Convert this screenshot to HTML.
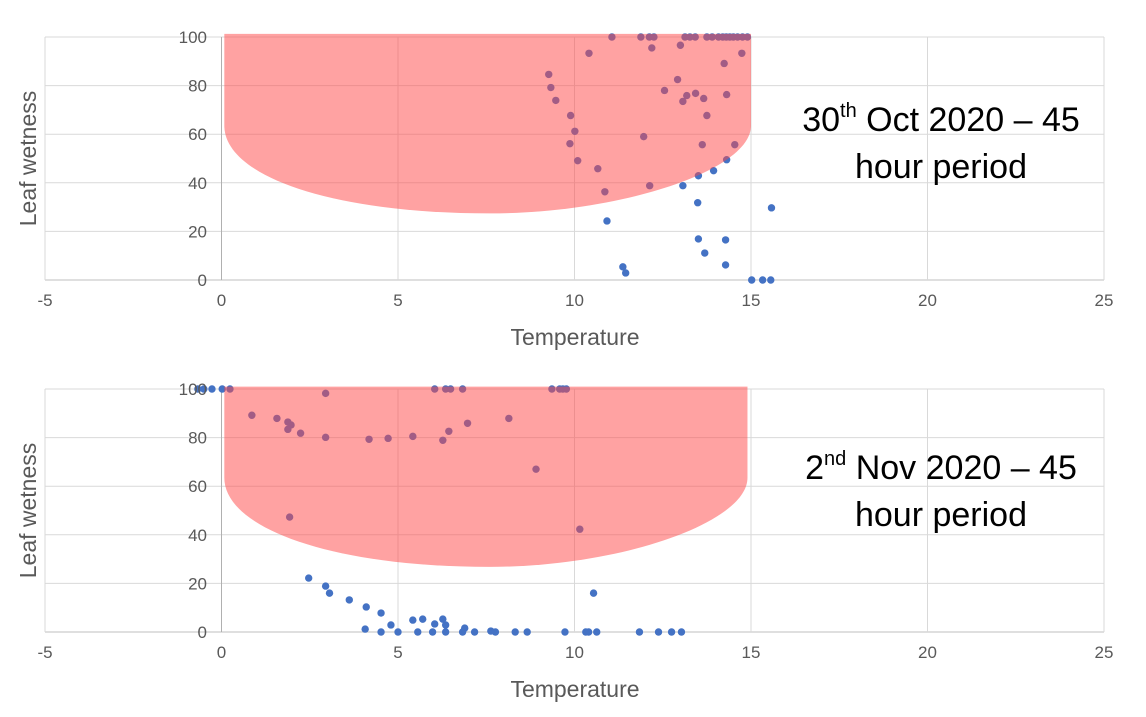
<!DOCTYPE html>
<html><head><meta charset="utf-8"><style>
body{margin:0;background:#fff;width:1146px;height:712px;overflow:hidden}
svg{font-family:"Liberation Sans",sans-serif}
</style></head><body>
<svg id="c" width="1146" height="712" xmlns="http://www.w3.org/2000/svg"></svg>
<script>
const xTicks=[-5,0,5,10,15,20,25];
const yTicks=[0,20,40,60,80,100];
const topTemp=[9.27,9.33,9.47,9.89,10.01,9.87,10.09,10.66,10.86,10.92,11.37,11.45,10.41,11.06,11.88,12.12,12.25,12.19,11.96,12.13,12.55,12.92,13.0,13.07,13.18,13.07,13.43,13.49,13.66,13.75,13.62,13.51,13.94,13.51,13.69,14.28,14.28,14.31,14.24,14.54,14.31,14.74,15.58,15.02,15.33,15.56,13.13,13.27,13.42,13.75,13.9,14.08,14.2,14.3,14.4,14.5,14.62,14.76,14.9];
const topWet=[84.6,79.2,73.9,67.7,61.2,56.1,49.1,45.8,36.3,24.3,5.4,2.9,93.3,100,100,100,100,95.5,59,38.8,78,82.5,96.6,73.5,75.9,38.8,76.8,31.8,74.7,67.7,55.7,42.9,45,16.9,11.1,16.5,6.2,76.3,89.1,55.7,49.5,93.3,29.7,0,0,0,100,100,100,100,100,100,100,100,100,100,100,100,100];
const botTemp=[-0.67,-0.5,-0.27,0.02,0.24,0.86,1.57,1.88,1.97,1.88,2.24,2.95,2.95,1.93,4.18,4.72,5.42,6.04,6.27,6.35,6.49,6.44,6.83,6.97,8.14,8.91,9.36,9.58,9.67,9.77,10.15,2.47,2.95,3.06,3.62,4.1,4.07,4.52,4.52,4.8,5.0,5.42,5.7,5.56,5.98,6.04,6.27,6.35,6.35,6.83,6.89,7.17,7.63,7.76,8.32,8.66,9.73,10.32,10.4,10.63,10.54,11.84,12.38,12.75,13.03];
const botWet=[100,100,100,100,100,89.2,87.9,86.4,85.2,83.4,81.8,98.2,80.1,47.3,79.3,79.7,80.5,100,78.9,100,100,82.6,100,85.9,87.9,67,100,100,100,100,42.3,22.2,18.9,16,13.2,10.3,1.2,7.8,0,2.9,0,4.9,5.3,0,0,3.3,5.3,2.9,0,0,1.6,0,0.4,0,0,0,0,0,0,0,16,0,0,0,0];
// zone: [tempLeft,tempRight,topVal,sideVal,bottomVal,bottomTemp]
const topZone=[0.08,15.0,101.3,63.5,27.4,7.6];
const botZone=[0.08,14.9,101,63.5,26.8,7.6];

const NS="http://www.w3.org/2000/svg";
const svg=document.getElementById('c');
function mk(t,a,p){const e=document.createElementNS(NS,t);for(const k in a)e.setAttribute(k,a[k]);(p||svg).appendChild(e);return e;}
const X=v=>45+(v+5)*(1104-45)/30;

function chart(name,yTop,yBot,temps,wets,zone,l1,sup,l2,labelY){
  const g=mk('g',{});
  
  
  const Y=v=>yBot-(v)*(yBot-yTop)/100;
  yTicks.forEach(t=>{
    const l=mk('line',{x1:45,x2:1104,y1:Y(t),y2:Y(t),stroke:t===0?'#bfbfbf':'#d9d9d9','stroke-width':1},g);
    
    
  });
  xTicks.forEach(t=>{
    const l=mk('line',{x1:X(t),x2:X(t),y1:Y(100),y2:Y(0),stroke:t===0?'#b0b0b0':'#d9d9d9','stroke-width':1},g);
    
    
    const tx=mk('text',{x:X(t),y:yBot+26,'text-anchor':'middle','font-size':17,fill:'#595959'},g);
    tx.textContent=t;
    
    
  });
  temps.forEach((t,i)=>{
    const c=mk('circle',{cx:X(t),cy:Y(wets[i]),r:3.7,fill:'#4472C4'},g);
    
    
  });
  const xl=X(zone[0]),xr=X(zone[1]),yt=Y(zone[2]),ys=Y(zone[3]),yb=Y(zone[4]),xm=X(zone[5]);
  const d=`M${xl},${yt} L${xr},${yt} L${xr},${ys} C${xr},${ys+45} ${xm+130},${yb} ${xm},${yb} C${xm-160},${yb} ${xl},${ys+50} ${xl},${ys} Z`;
  const p=mk('path',{d:d,fill:'#ff4646','fill-opacity':0.5},g);
  
  
  yTicks.forEach(t=>{
    const tx=mk('text',{x:207,y:Y(t)+6,'text-anchor':'end','font-size':17,fill:'#595959'},g);
    tx.textContent=t;
    
    
  });
  const at=mk('text',{x:575,y:yBot+65,'text-anchor':'middle','font-size':23,fill:'#595959'},g);
  at.textContent='Temperature';
  
  
  const cy=(yTop+yBot)/2;
  const yt2=mk('text',{x:0,y:0,'text-anchor':'middle','font-size':23,fill:'#595959',transform:`translate(36,${cy}) rotate(-90)`},g);
  yt2.textContent='Leaf wetness';
  
  
  const ann=mk('text',{x:941,y:labelY,'text-anchor':'middle','font-size':34,fill:'#000'},g);
  
  
  ann.innerHTML=`<tspan x="941">${l1}<tspan font-size="20" dy="-14">${sup}</tspan><tspan dy="14">${l2}</tspan></tspan><tspan x="941" dy="47">hour period</tspan>`;
}
chart('chart-30-oct',37,280,topTemp,topWet,topZone,'30','th',' Oct 2020 – 45',131);
chart('chart-2-nov',389,632,botTemp,botWet,botZone,'2','nd',' Nov 2020 – 45',479);
</script>
</body></html>
